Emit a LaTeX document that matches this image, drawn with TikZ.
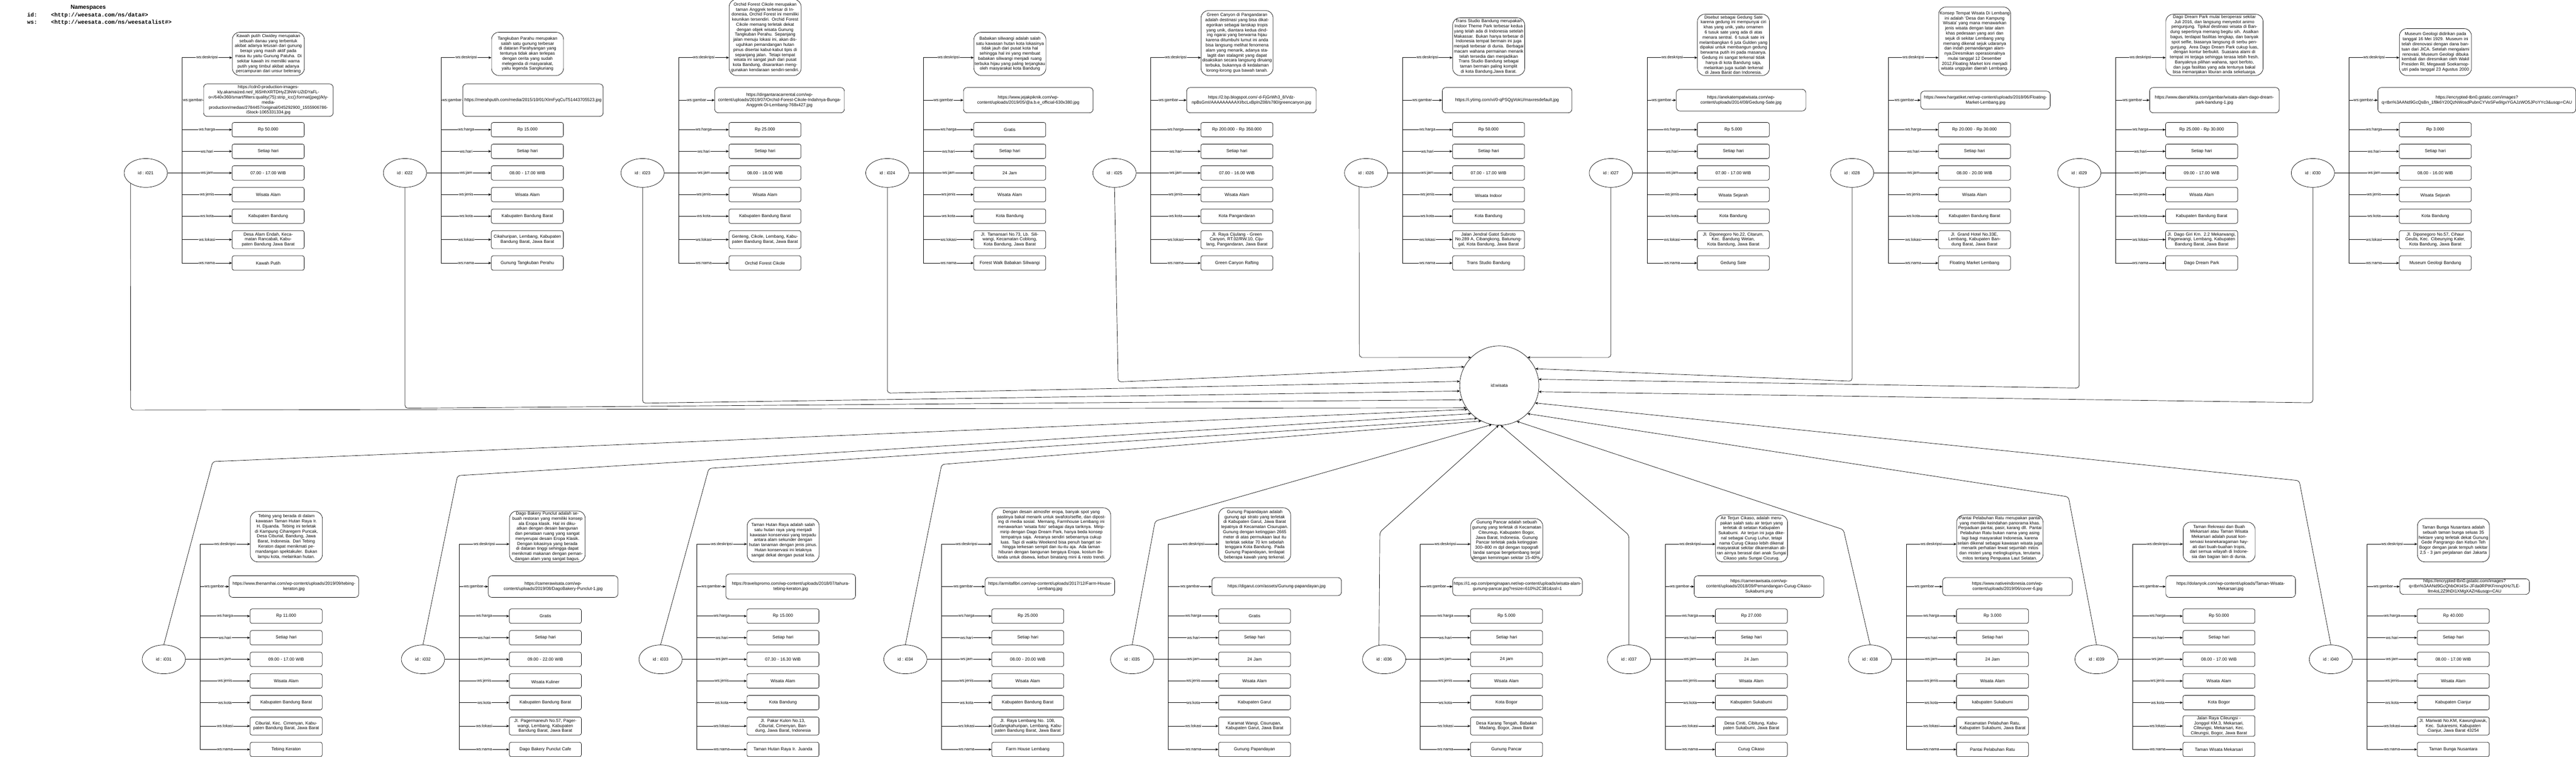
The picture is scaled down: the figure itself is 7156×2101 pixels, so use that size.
\documentclass[tikz,border=0pt]{standalone}
\usepackage{fontspec}
\setmainfont{Liberation Sans}
\newfontfamily\nsfont{Liberation Mono}
\usetikzlibrary{arrows.meta, shapes.geometric}

\newcommand\deskripsi[4]{%
  \node[descbox, text width=#2pt, minimum height=#3pt, anchor=south west] (desk#1) at (240,-270) {#4};
  \coordinate (dk#1) at (240,-320);
  \draw[arrow] (id#1.east) -- ++(40,0) |- (dk#1) node[lbl, pos=0.75] {ws:deskripsi};}
\newcommand\gambar[5]{%
  \node[urlbox, minimum width=#3pt, minimum height=#4pt, anchor=west] (gbr#1) at (#2,-202) {#5};
  \draw[arrow] (id#1.east) -- ++(40,0) |- (gbr#1.west) node[lbl, pos=0.75] {ws:gambar};}
\newcommand\props[8]{%
  \node[prop] (harga#1) at (340,-120) {#2};
  \node[prop] (hari#1) at (340,-60) {#3};
  \node[prop] (jam#1) at (340,0) {#4};
  \node[prop] (jenis#1) at (340,60) {#5};
  \node[prop] (kota#1) at (340,120) {#6};
  \node[prop, minimum height=50pt] (lokasi#1) at (340,185) {#7};
  \node[prop] (nama#1) at (340,250) {#8};
  \foreach \p in {harga,hari,jam,jenis,kota,lokasi,nama}
    \draw[arrow] (id#1.east) -- ++(40,0) |- (\p#1.west) node[lbl, pos=0.75] {ws:\p};}

\begin{document}
\begin{tikzpicture}[x=1pt, y=-1pt, line width=1pt, font=\fontsize{12}{14}\selectfont,
res/.style={ellipse, draw, minimum width=120pt, minimum height=80pt, inner sep=0pt},
hub/.style={circle, draw, minimum size=220pt, inner sep=0pt},
prop/.style={rectangle, draw, rounded corners=5pt, minimum width=200pt, minimum height=40pt, text width=196pt, inner sep=2pt, align=center},
descbox/.style={prop, rounded corners=20pt},
urlbox/.style={rectangle, draw, rounded corners=10pt, inner sep=2pt, align=center},
lbl/.style={fill=white, inner sep=1pt, font=\fontsize{11}{13}\selectfont},
arrow/.style={-{Stealth[length=8pt, width=7pt]}},
link/.style={arrow, rounded corners=8pt}
]
\useasboundingbox (0,0) rectangle (7156,2101);

\node[font=\fontsize{16}{19}\selectfont\bfseries] (ns) at (245,21) {Namespaces};
\node[anchor=base west, font=\nsfont\bfseries\fontsize{15.5}{19}\selectfont] (pid) at (72,47) {id:};
\node[anchor=base west, font=\nsfont\bfseries\fontsize{15.5}{19}\selectfont] (uid) at (138,47) {<http://weesata.com/ns/data\#>};
\node[anchor=base west, font=\nsfont\bfseries\fontsize{15.5}{19}\selectfont] (pws) at (72,66) {ws:};
\node[anchor=base west, font=\nsfont\bfseries\fontsize{15.5}{19}\selectfont] (uws) at (138,66) {<http://weesata.com/ns/weesatalist\#>};

\begin{scope}[shift={(405,480)}]
\node[res] (id21) at (0,0) {id : i021};
\deskripsi{21}{196}{120}{Kawah putih Ciwidey merupakan sebuah danau yang terbentuk akibat adanya letusan dari gunung berapi yang masih aktif pada masa itu yaitu Gunung Patuha. Di sekitar kawah ini memiliki warna putih yang timbul akibat adanya percampuran dari unsur belerang}
\gambar{21}{160}{360}{90}{https://cdn0-production-images-\\kly.akamaized.net/\_l6SHhXRTDHyZ3NW-UZtDYaFL-\\o=/640x360/smart/filters:quality(75):strip\_icc():format(jpeg)/kly-\\media-\\production/medias/2784457/original/045292900\_1555906786-\\iStock-1065331334.jpg}
\props{21}{Rp 50.000}{Setiap hari}{07.00 - 17.00 WIB}{Wisata Alam}{Kabupaten Bandung}{Desa Alam Endah, Kecamatan Rancabali, Kabupaten Bandung Jawa Barat}{Kawah Putih}
\end{scope}

\begin{scope}[shift={(1125,480)}]
\node[res] (id22) at (0,0) {id : i022};
\deskripsi{22}{196}{120}{Tangkuban Parahu merupakan salah satu gunung terbesar di dataran Parahyangan yang tentunya tidak akan terlepas dengan cerita yang sudah melegenda di masyarakat, yaitu legenda Sangkuriang}
\gambar{22}{160}{390}{90}{https://merahputih.com/media/2015/10/01/XlmFyqCuT51443705523.jpg}
\props{22}{Rp 15.000}{Setiap hari}{08.00 - 17.00 WIB}{Wisata Alam}{Kabupaten Bandung Barat}{Cikahuripan, Lembang, Kabupaten Bandung Barat, Jawa Barat}{Gunung Tangkuban Perahu}
\end{scope}

\begin{scope}[shift={(1785,480)}]
\node[res] (id23) at (0,0) {id : i023};
\deskripsi{23}{196}{211}{Orchid Forest Cikole merupakan taman Anggrek terbesar di Indonesia, Orchid Forest ini memiliki keunikan tersendiri. Orchid Forest Cikole memang terletak dekat dengan objek wisata Gunung Tangkuban Perahu. Sepanjang jalan menuju lokasi ini, akan disuguhkan pemandangan hutan pinus disertai kabut-kabut tipis di sepanjang jalan. Tetapi tempat wisata ini sangat jauh dari pusat kota Bandung, disarankan menggunakan kendaraan sendiri-sendiri.}
\gambar{23}{200}{360}{70}{https://dirgantaracarrental.com/wp-\\content/uploads/2019/07/Orchid-Forest-Cikole-Indahnya-Bunga-\\Anggrek-Di-Lembang-768x427.jpg}
\props{23}{Rp 25.000}{Setiap hari}{08.00 - 18.00 WIB}{Wisata Alam}{Kabupaten Bandung Barat}{Genteng, Cikole, Lembang, Kabupaten Bandung Barat, Jawa Barat}{Orchid Forest Cikole}
\end{scope}

\begin{scope}[shift={(2465,480)}]
\node[res] (id24) at (0,0) {id : i024};
\deskripsi{24}{196}{120}{Babakan siliwangi adalah salah satu kawasan hutan kota lokasinya tidak jauh dari pusat kota hal sehingga hal ini yang membuat babakan siliwangi menjadi ruang terbuka hijau yang paling terjangkau oleh masyarakat kota Bandung}
\gambar{24}{211}{360}{70}{https://www.jejakpiknik.com/wp-\\content/uploads/2019/05/@a.b.e\_official-630x380.jpg}
\props{24}{Gratis}{Setiap hari}{24 Jam}{Wisata Alam}{Kota Bandung}{Jl. Tamansari No.73, Lb. Siliwangi, Kecamatan Coblong, Kota Bandung, Jawa Barat}{Forest Walk Babakan Siliwangi}
\end{scope}

\begin{scope}[shift={(3096,480)}]
\node[res] (id25) at (0,0) {id : i025};
\deskripsi{25}{196}{180}{Green Canyon di Pangandaran adalah destinasi yang bisa dikategorikan sebagai lanskap tropis yang unik, diantara kedua dinding ngarai yang berwarna hijau karena ditumbuhi lumut ini anda bisa langsung melihat fenomena alam yang menarik, adanya stalagtit dan stalagmit yang dapat disaksikan secara langsung diruang terbuka, bukannya di kedalaman lorong-lorong gua bawah tanah.}
\gambar{25}{200}{360}{70}{https://2.bp.blogspot.com/-d-FjGrWh3\_8/Vdz-\\npBsGmI/AAAAAAAAAXI/bcLxBpInZ08/s780/greencanyon.jpg}
\props{25}{Rp 200.000 - Rp 350.000}{Setiap hari}{07.00 - 16.00 WIB}{Wisata Alam}{Kota Pangandaran}{Jl. Raya Cijulang - Green Canyon, RT.02/RW.10, Cijulang, Pangandaran, Jawa Barat}{Green Canyon Rafting}
\end{scope}

\begin{scope}[shift={(3795,480)}]
\node[res] (id26) at (0,0) {id : i026};
\deskripsi{26}{196}{160}{Trans Studio Bandung merupakan Indoor Theme Park terbesar kedua yang telah ada di Indonesia setelah Makassar. Bukan hanya terbesar di Indonesia tempat bermain ini juga menjadi terbesar di dunia. Berbagai macam wahana permainan menarik telah tersedia dan menjadikan Trans Studio Bandung sebagai taman bermain paling komplit di kota Bandung,Jawa Barat.}
\gambar{26}{211}{360}{70}{https://i.ytimg.com/vi/0-qPSQgVokU/maxresdefault.jpg}
\props{26}{Rp 50.000}{Setiap hari}{07.00 - 17.00 WIB}{\mbox{}\\Wisata Indoor}{Kota Bandung}{Jalan Jendral Gatot Subroto No.289 A, Cibangkong, Batununggal, Kota Bandung, Jawa Barat}{Trans Studio Bandung}
\end{scope}

\begin{scope}[shift={(4475,480)}]
\node[res] (id27) at (0,0) {id : i027};
\deskripsi{27}{196}{170}{Disebut sebagai Gedung Sate karena gedung ini mempunyai ciri khas yang unik, yaitu ornamen 6 tusuk sate yang ada di atas menara sentral. 6 tusuk sate ini melambangkan 6 juta Gulden yang dipakai untuk membangun gedung berwarna putih ini pada masanya. Gedung ini sangat terkenal tidak hanya di kota Bandung saja, melainkan juga sudah terkenal di Jawa Barat dan Indonesia.}
\gambar{27}{181}{360}{60}{https://anekatempatwisata.com/wp-\\content/uploads/2014/08/Gedung-Sate.jpg}
\props{27}{Rp 5.000}{Setiap hari}{07.00 - 17.00 WIB}{\mbox{}\\Wisata Sejarah}{Kota Bandung}{Jl. Diponegoro No.22, Citarum, Kec. Bandung Wetan, Kota Bandung, Jawa Barat}{Gedung Sate}
\end{scope}

\begin{scope}[shift={(5145,480)}]
\node[res] (id28) at (0,0) {id : i028};
\deskripsi{28}{196}{190}{Konsep Tempat Wisata Di Lembang ini adalah ‘Desa dan Kampung Wisata’ yang mana menawarkan jenis wisata dengan latar alam khas pedesaan yang asri dan sejuk di sekitar Lembang yang memang dikenal sejuk udaranya dan indah pemandangan alamnya.Diresmikan operasionalnya mulai tanggal 12 Desember 2012,Floating Market kini menjadi wisata unggulan daerah Lembang.}
\gambar{28}{190}{360}{50}{https://www.hargatiket.net/wp-content/uploads/2018/06/Floating-\\Market-Lembang.jpg}
\props{28}{Rp 20.000 - Rp 30.000}{Setiap hari}{08.00 - 20.00 WIB}{Wisata Alam}{Kabupaten Bandung Barat}{Jl. Grand Hotel No.33E, Lembang, Kabupaten Bandung Barat, Jawa Barat}{Floating Market Lembang}
\end{scope}

\begin{scope}[shift={(5776,480)}]
\node[res] (id29) at (0,0) {id : i029};
\deskripsi{29}{266}{170}{Dago Dream Park mulai beroperasi sekitar Juli 2016, dan langsung menyedot animo pengunjung. Tipikal destinasi wisata di Bandung sepertinya memang begitu sih. Asalkan bagus, terdapat fasilitas lengkap, dan banyak spot selfie, biasanya langsung di serbu pengunjung. Area Dago Dream Park cukup luas, dengan kontur berbukit. Suasana alami di tempat ini terjaga sehingga terasa lebih fresh. Banyaknya pilihan wahana, spot berfoto, dan juga fasilitas yang ada tentunya bakal bisa memanjakan liburan anda sekeluarga.}
\gambar{29}{195}{360}{70}{https://www.daerahkita.com/gambar/wisata-alam-dago-dream-\\park-bandung-1.jpg}
\props{29}{Rp 25.000 - Rp 30.000}{Setiap hari}{09.00 - 17.00 WIB}{Wisata Alam}{Kabupaten Bandung Barat}{Jl. Dago Giri Km. 2.2 Mekarwangi, Pagerwangi, Lembang, Kabupaten Bandung Barat, Jawa Barat}{Dago Dream Park}
\end{scope}

\begin{scope}[shift={(6425,480)}]
\node[res] (id30) at (0,0) {id : i030};
\deskripsi{30}{196}{130}{Museum Geologi didirikan pada tanggal 16 Mei 1929. Museum ini telah direnovasi dengan dana bantuan dari JICA. Setelah mengalami renovasi, Museum Geologi dibuka kembali dan diresmikan oleh Wakil Presiden RI, Megawati Soekarnoputri pada tanggal 23 Agustus 2000}
\gambar{30}{180}{550}{70}{https://encrypted-tbn0.gstatic.com/images?\\q=tbn\%3AANd9GcQsBn\_1f8k6Y20QzNWosdPubnCYVoSFw9IgxYGAJzWO5JPoYYc3\&usqp=CAU}
\props{30}{Rp 3.000}{Setiap hari}{08.00 - 16.00 WIB}{\mbox{}\\Wisata Sejarah}{Kota Bandung}{Jl. Diponegoro No.57, Cihaur Geulis, Kec. Cibeunying Kaler, Kota Bandung, Jawa Barat}{Museum Geologi Bandung}
\end{scope}

\begin{scope}[shift={(455,1830)}]
\node[res] (id31) at (0,0) {id : i031};
\deskripsi{31}{196}{140}{Tebing yang berada di dalam kawasan Taman Hutan Raya Ir. H. Djuanda. Tebing ini terletak di Kampung Ciharegem Puncak, Desa Ciburial, Bandung, Jawa Barat, Indonesia. Dari Tebing Keraton dapat menikmati pemandangan spektakuler. Bukan lampu kota, melainkan hutan.}
\gambar{31}{181}{360}{60}{https://www.thenamhai.com/wp-content/uploads/2019/09/tebing-\\keraton.jpg}
\props{31}{Rp 11.000}{Setiap hari}{09.00 - 17.00 WIB}{Wisata Alam}{Kabupaten Bandung Barat}{Ciburial, Kec. Cimenyan, Kabupaten Bandung Barat, Jawa Barat}{Tebing Keraton}
\end{scope}

\begin{scope}[shift={(1175,1830)}]
\node[res] (id32) at (0,0) {id : i032};
\deskripsi{32}{206}{140}{Dago Bakery Punclut adalah sebuah restoran yang memiliki konsep ala Eropa klasik. Hal ini dikuatkan dengan desain bangunan dan penataan ruang yang sangat menyerupai desain Eropa Klasik. Dengan lokasinya yang berada di dataran tinggi sehingga dapat menikmati makanan dengan pemandangan alam yang sangat bagus.}
\gambar{32}{181}{360}{60}{https://camerawisata.com/wp-\\content/uploads/2019/08/DagoBakery-Punclut-1.jpg}
\props{32}{Gratis}{Setiap hari}{09.00 - 22.00 WIB}{\mbox{}\\Wisata Kuliner}{Kabupaten Bandung Barat}{Jl. Pagermaneuh No.57, Pagerwangi, Lembang, Kabupaten Bandung Barat, Jawa Barat}{Dago Bakery Punclut Cafe}
\end{scope}

\begin{scope}[shift={(1835,1830)}]
\node[res] (id33) at (0,0) {id : i033};
\deskripsi{33}{196}{120}{Taman Hutan Raya adalah salah satu hutan raya yang menjadi kawasan konservasi yang terpadu antara alam sekunder dengan hutan tanaman dengan jenis pinus. Hutan konservasi ini letaknya sangat dekat dengan pusat kota.}
\gambar{33}{181}{360}{70}{https://travelspromo.com/wp-content/uploads/2018/07/tahura-\\tebing-keraton.jpg}
\props{33}{Rp 15.000}{Setiap hari}{07.30 - 16.30 WIB}{Wisata Alam}{Kota Bandung}{Jl. Pakar Kulon No.13, Ciburial, Cimenyan, Bandung, Jawa Barat, Indonesia}{Taman Hutan Raya Ir. Juanda}
\end{scope}

\begin{scope}[shift={(2515,1830)}]
\node[res] (id34) at (0,0) {id : i034};
\deskripsi{34}{326}{150}{Dengan desain atmosfer eropa, banyak spot yang pastinya bakal menarik untuk swafoto/selfie, dan diposting di media sosial. Memang, Farmhouse Lembang ini menawarkan ‘wisata foto’ sebagai daya tariknya. Mirip-mirip dengan Dago Dream Park, hanya beda konsep tempatnya saja. Areanya sendiri sebenarnya cukup luas. Tapi di waktu Weekend bisa penuh banget sehingga terkesan sempit dan itu-itu aja. Ada taman hiburan dengan bangunan bergaya Eropa, kostum Belanda untuk disewa, kebun binatang mini \& resto trendi.}
\gambar{34}{221}{360}{50}{https://armitafibri.com/wp-content/uploads/2017/12/Farm-House-\\Lembang.jpg}
\props{34}{Rp 25.000}{Setiap hari}{08.00 - 20.00 WIB}{Wisata Alam}{Kabupaten Bandung Barat}{Jl. Raya Lembang No. 108, Gudangkahuripan, Lembang, Kabupaten Bandung Barat, Jawa Barat}{Farm House Lembang}
\end{scope}

\begin{scope}[shift={(3145,1830)}]
\node[res] (id35) at (0,0) {id : i035};
\deskripsi{35}{196}{150}{Gunung Papandayan adalah gunung api strato yang terletak di Kabupaten Garut, Jawa Barat tepatnya di Kecamatan Cisurupan. Gunung dengan ketinggian 2665 meter di atas permukaan laut itu terletak sekitar 70 km sebelah tenggara Kota Bandung. Pada Gunung Papandayan, terdapat beberapa kawah yang terkenal.}
\gambar{35}{221}{360}{50}{https://digarut.com/assets/Gunung-papandayan.jpg}
\props{35}{Gratis}{Setiap hari}{24 Jam}{Wisata Alam}{Kabupaten Garut}{Karamat Wangi, Cisurupan, Kabupaten Garut, Jawa Barat}{Gunung Papandayan}
\end{scope}

\begin{scope}[shift={(3845,1830)}]
\node[res] (id36) at (0,0) {id : i036};
\deskripsi{36}{196}{120}{Gunung Pancar adalah sebuah gunung yang terletak di Kecamatan Citeureup, Kabupaten Bogor, Jawa Barat, Indonesia. Gunung Pancar terletak pada ketinggian 300–800 m dpl dengan topografi landai sampai bergelombang terjal dengan kemiringan sekitar 15-40\%.}
\gambar{36}{190}{360}{50}{https://i1.wp.com/penginapan.net/wp-content/uploads/wisata-alam-\\gunung-pancar.jpg?resize=610\%2C381\&ssl=1}
\props{36}{Rp 5.000}{Setiap hari}{24 jam}{Wisata Alam}{Kota Bogor}{Desa Karang Tengah, Babakan Madang, Bogor, Jawa Barat}{Gunung Pancar}
\end{scope}

\begin{scope}[shift={(4525,1830)}]
\node[res] (id37) at (0,0) {id : i037};
\deskripsi{37}{196}{130}{Air Terjun Cikaso, adalah merupakan salah satu air terjun yang terletak di selatan Kabupaten Sukabumi. Air terjun ini juga dikenal sebagai Curug Luhur, tetapi nama Curug Cikaso lebih dikenal masyarakat sekitar dikarenakan aliran airnya berasal dari anak Sungai Cikaso yaitu Sungai Cicurug.}
\gambar{37}{181}{360}{60}{https://camerawisata.com/wp-\\content/uploads/2018/09/Pemandangan-Curug-Cikaso-\\Sukabumi.png}
\props{37}{Rp 27.000}{Setiap hari}{24 Jam}{Wisata Alam}{Kabupaten Sukabumi}{Desa Ciniti, Cibitung, Kabupaten Sukabumi, Jawa Barat}{Curug Cikaso}
\end{scope}

\begin{scope}[shift={(5195,1830)}]
\node[res] (id38) at (0,0) {id : i038};
\deskripsi{38}{236}{130}{Pantai Pelabuhan Ratu merupakan pantai yang memiliki keindahan panorama khas. Perpaduan pantai, pasir, karang dll. Pantai Pelabuhan Ratu bukan nama yang asing lagi bagi masyarakat Indonesia, karena selain dikenal sebagai kawasan wisata juga menarik perhatian lewat sejumlah mitos dan misteri yang melingkupinya, terutama mitos tentang Penguasa Laut Selatan.}
\gambar{38}{201}{360}{50}{https://www.nativeindonesia.com/wp-\\content/uploads/2019/06/cover-6.jpg}
\props{38}{Rp 3.000}{Setiap hari}{24 Jam}{Wisata Alam}{kabupaten Sukabumi}{Kecamatan Pelabuhan Ratu, Kabupaten Sukabumi, Jawa Barat}{Pantai Pelabuhan Ratu}
\end{scope}

\begin{scope}[shift={(5824,1830)}]
\node[res] (id39) at (0,0) {id : i039};
\deskripsi{39}{196}{110}{Taman Rekreasi dan Buah Mekarsari atau Taman Wisata Mekarsari adalah pusat konservasi keanekaragaman hayati dari buah-buahan tropis, dari semua wilayah di Indonesia dan bagian lain di dunia.}
\gambar{39}{192}{360}{60}{https://dolanyok.com/wp-content/uploads/Taman-Wisata-\\Mekarsari.jpg}
\props{39}{Rp 50.000}{Setiap hari}{08.00 - 17.00 WIB}{Wisata Alam}{Kota Bogor}{Jalan Raya Cileungsi -Jonggol KM.3, Mekarsari, Cileungsi, Mekarsari, Kec. Cileungsi, Bogor, Jawa Barat}{Taman Wisata Mekarsari}
\end{scope}

\begin{scope}[shift={(6475,1830)}]
\node[res] (id40) at (0,0) {id : i040};
\deskripsi{40}{196}{120}{Taman Bunga Nusantara adalah sebuah taman bunga seluas 35 hektare yang terletak dekat Gunung Gede Pangrango dan Kebun Teh Bogor dengan jarak tempuh sekitar 2,5 - 3 jam perjalanan dari Jakarta}
\gambar{40}{191}{360}{40}{https://encrypted-tbn0.gstatic.com/images?\\q=tbn\%3AANd9GcQhbOKt4Sx-JFda0RPtKFmnqXHz7LE-\\llm4oL2Z9hDI1XMgXAZH\&usqp=CAU}
\props{40}{Rp 40.000}{Setiap hari}{08.00 - 17.00 WIB}{Wisata Alam}{Kabupaten Cianjur}{Jl. Mariwati No.KM, Kawungluwuk, Kec. Sukaresmi, Kabupaten Cianjur, Jawa Barat 43254}{Taman Bunga Nusantara}
\end{scope}

\node[hub] (wisata) at (4165,1070) {id:wisata};

\draw[link] (id21.214) -- (363,1138) -- (wisata.214);
\draw[link] (id22.south) -- (1125,1133) -- (wisata.201);
\draw[link] (id23.south) -- (1785,1119) -- (wisata.188);
\draw[link] (id24.south) -- (2465,1091) -- (wisata.174);
\draw[link] (id25.south) -- (3106,1060) -- (wisata.152);
\draw[link] (id26.243) -- (3776,992) -- (wisata.135);
\draw[link] (id27.south) -- (4475,992) -- (wisata.45);
\draw[link] (id28.south) -- (5145,1058) -- (wisata.25);
\draw[link] (id29.south) -- (5776,1077) -- (wisata.9);
\draw[link] (id30.south) -- (6425,1118) -- (wisata.351);
\draw[link] (id31.north) -- (591,1281) -- (wisata.217);
\draw[link] (id32.north) -- (1271,1320) -- (wisata.225);
\draw[link] (id33.north) -- (1969,1300) -- (wisata.236);
\draw[link] (id34.north) -- (2616,1289) -- (wisata.243);
\draw[link] (id35.north) -- (3209,1446) -- (wisata.259);
\draw[link] (id36.110) -- (3833,1477) -- (wisata.269);
\draw[link] (id37.north) -- (4525,1485) -- (wisata.272);
\draw[link] (id38.north) -- (5121,1470) -- (wisata.296);
\draw[link] (id39.north) -- (5746,1379) -- (wisata.315);
\draw[link] (id40.north) -- (6387,1334) -- (wisata.334);
\end{tikzpicture}
\end{document}
